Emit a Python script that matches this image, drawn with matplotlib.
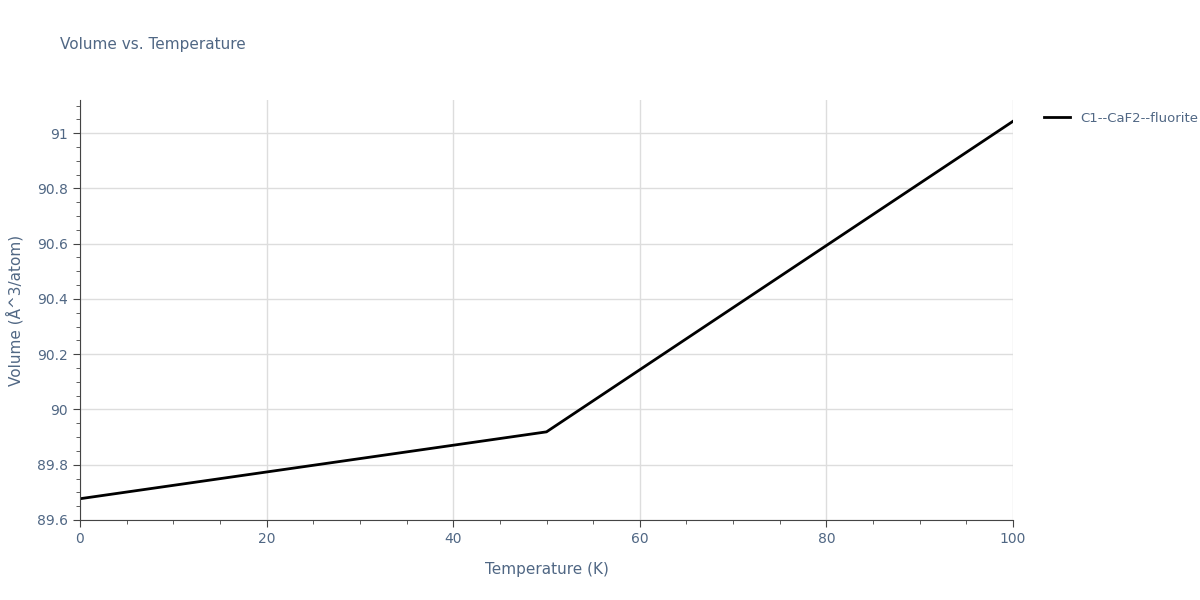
import matplotlib
matplotlib.use("Agg")
import matplotlib.pyplot as plt
from matplotlib.ticker import MultipleLocator, FuncFormatter

temps = [0, 50, 100]
volumes = [89.677, 89.919, 91.043]
label = "C1--CaF2--fluorite"

fig = plt.figure(figsize=(12, 6), dpi=100)
ax = fig.add_axes([80/1200, 80/600, 933/1200, 420/600])
ax.plot(temps, volumes, color="black", lw=2, label=label)
ax.set_xlim(0, 100)
ax.set_ylim(89.60, 91.12)
ax.xaxis.set_major_locator(MultipleLocator(20))
ax.xaxis.set_minor_locator(MultipleLocator(5))
ax.yaxis.set_major_locator(MultipleLocator(0.2))
ax.yaxis.set_minor_locator(MultipleLocator(0.05))
ax.yaxis.set_major_formatter(FuncFormatter(lambda v, p: f"{v:.1f}".rstrip("0").rstrip(".")))
ax.grid(True, which="major", color="#dddddd", lw=1)
ax.set_axisbelow(True)
for s in ["top", "right"]:
    ax.spines[s].set_visible(False)
for s in ["left", "bottom"]:
    ax.spines[s].set_color("#444444")
tc = "#444444"
ax.tick_params(which="major", length=5, color=tc, labelcolor="#506784", labelsize=10)
ax.tick_params(which="minor", length=3, color=tc)
ax.set_xlabel("Temperature (K)", color="#506784", fontsize=11, labelpad=12)
ax.set_ylabel("Volume (Å^3/atom)", color="#506784", fontsize=11, labelpad=10)
fig.text(60/1200, 1-45/600, "Volume vs. Temperature", color="#506784", fontsize=11, va="center")
leg = ax.legend(loc="upper left", bbox_to_anchor=(1.02, 1.0), frameon=False, fontsize=9.5)
for t in leg.get_texts():
    t.set_color("#506784")
fig.savefig("out.png")
